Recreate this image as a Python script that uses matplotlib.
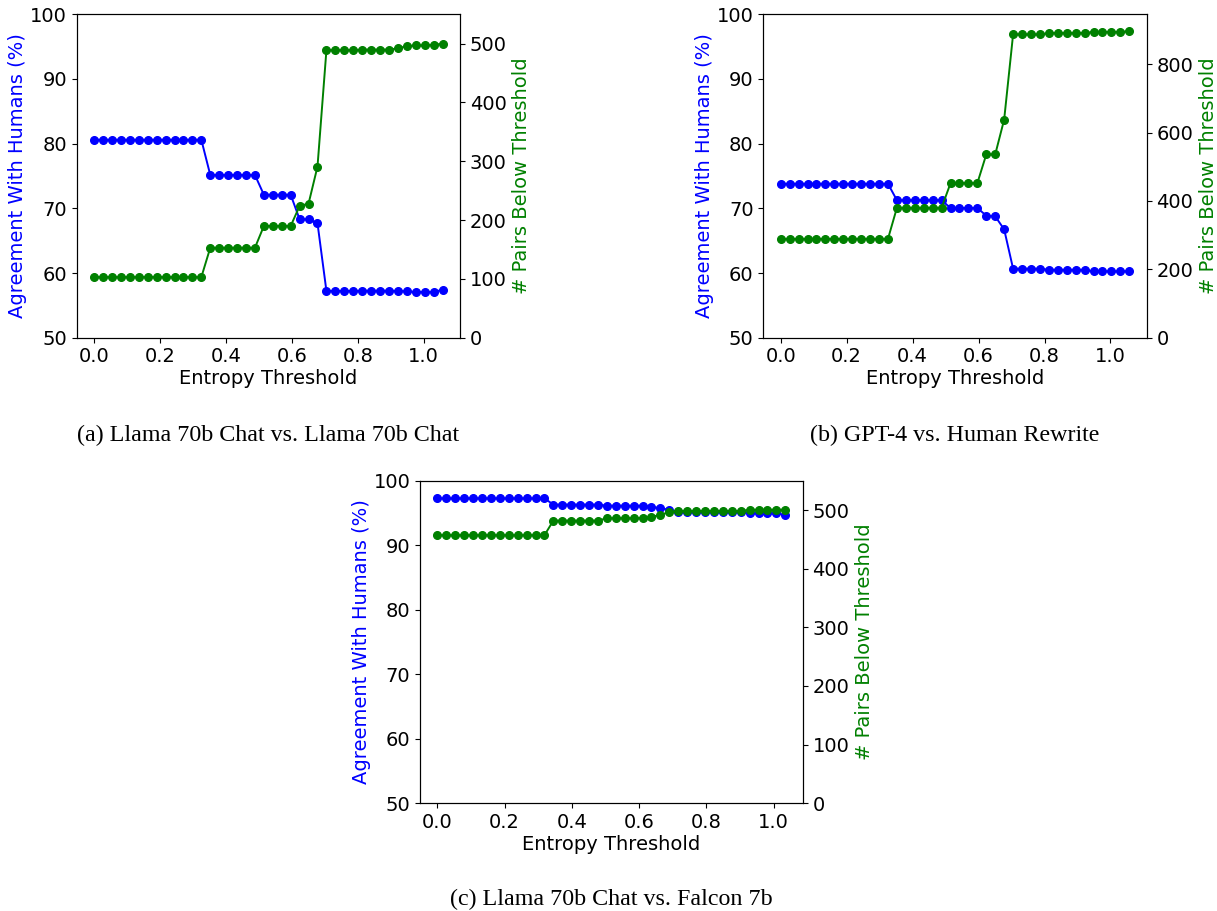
import numpy as np
import matplotlib
matplotlib.use("Agg")
import matplotlib.pyplot as plt

# Entropy thresholds (40 evenly spaced steps)
thr_ab = np.linspace(0.0, 1.057, 40)
thr_c = np.linspace(0.0, 1.035, 40)

# (a) Llama 70b Chat vs. Llama 70b Chat
agree_a = ([80.6] * 13 + [75.15] * 6 + [72.1] * 4 + [68.3, 68.3, 67.7]
           + [57.22, 57.22, 57.22, 57.22, 57.27, 57.27, 57.27, 57.27, 57.22,
              57.17, 57.06, 57.06, 57.06, 57.42])
pairs_a = ([103] * 13 + [153] * 6 + [190] * 4 + [224, 228, 291]
           + [489, 489, 489, 489, 490, 490, 490, 490, 492, 496, 497, 497, 498, 500])

# (b) GPT-4 vs. Human Rewrite
agree_b = ([73.8] * 13 + [71.25] * 6 + [70.05] * 4 + [68.87, 68.76, 66.75]
           + [60.67] * 4 + [60.5] * 5 + [60.26] * 5)
pairs_b = ([289] * 13 + [380] * 6 + [452] * 4 + [536, 536, 638]
           + [887] * 4 + [891] * 5 + [894.5] * 4 + [896.5])

# (c) Llama 70b Chat vs. Falcon 7b
agree_c = ([97.25] * 13 + [96.3] * 6 + [96.13] * 5 + [95.92, 95.77, 95.46]
           + [95.2] * 8 + [94.94] * 4 + [94.7])
pairs_c = ([457] * 13 + [482] * 6 + [486] * 5 + [488.6, 491.4, 497]
           + [498.3] * 8 + [500.5] * 5)

captions = ["(a) Llama 70b Chat vs. Llama 70b Chat",
            "(b) GPT-4 vs. Human Rewrite",
            "(c) Llama 70b Chat vs. Falcon 7b"]

plt.rcParams["font.size"] = 14

fig = plt.figure(figsize=(12.17, 9.11), dpi=100)

W, H = 1217, 911


def box(l, r, t, b):
    return [l / W, 1 - b / H, (r - l) / W, (b - t) / H]


panels = [
    (box(76.7, 460, 14.3, 337.7), thr_ab, agree_a, pairs_a, 550),
    (box(763.3, 1146.7, 14.3, 337.7), thr_ab, agree_b, pairs_b, 946),
    (box(420, 802.7, 480.7, 803.3), thr_c, agree_c, pairs_c, 550),
]

for rect, x, agree, pairs, ytop in panels:
    ax = fig.add_axes(rect)
    ax.plot(x, agree, "o-", color="blue", markersize=5.5, linewidth=1.4)
    ax.set_ylim(50, 100)
    ax.set_xlabel("Entropy Threshold", labelpad=2)
    ax.set_ylabel("Agreement With Humans (%)", color="blue", labelpad=2)
    ax2 = ax.twinx()
    ax2.plot(x, pairs, "o-", color="green", markersize=5.5, linewidth=1.4)
    ax2.set_ylim(0, ytop)
    ax2.set_ylabel("# Pairs Below Threshold", color="green")

# sub-figure captions (serif, like the paper)
cap_pos = [(268.3, 435), (955, 435), (611.3, 899)]
for (cx, cy), cap in zip(cap_pos, captions):
    fig.text(cx / W, 1 - cy / H, cap, ha="center", va="center",
             family="Liberation Serif", fontsize=17.3)

fig.savefig("out.png", dpi=100)
